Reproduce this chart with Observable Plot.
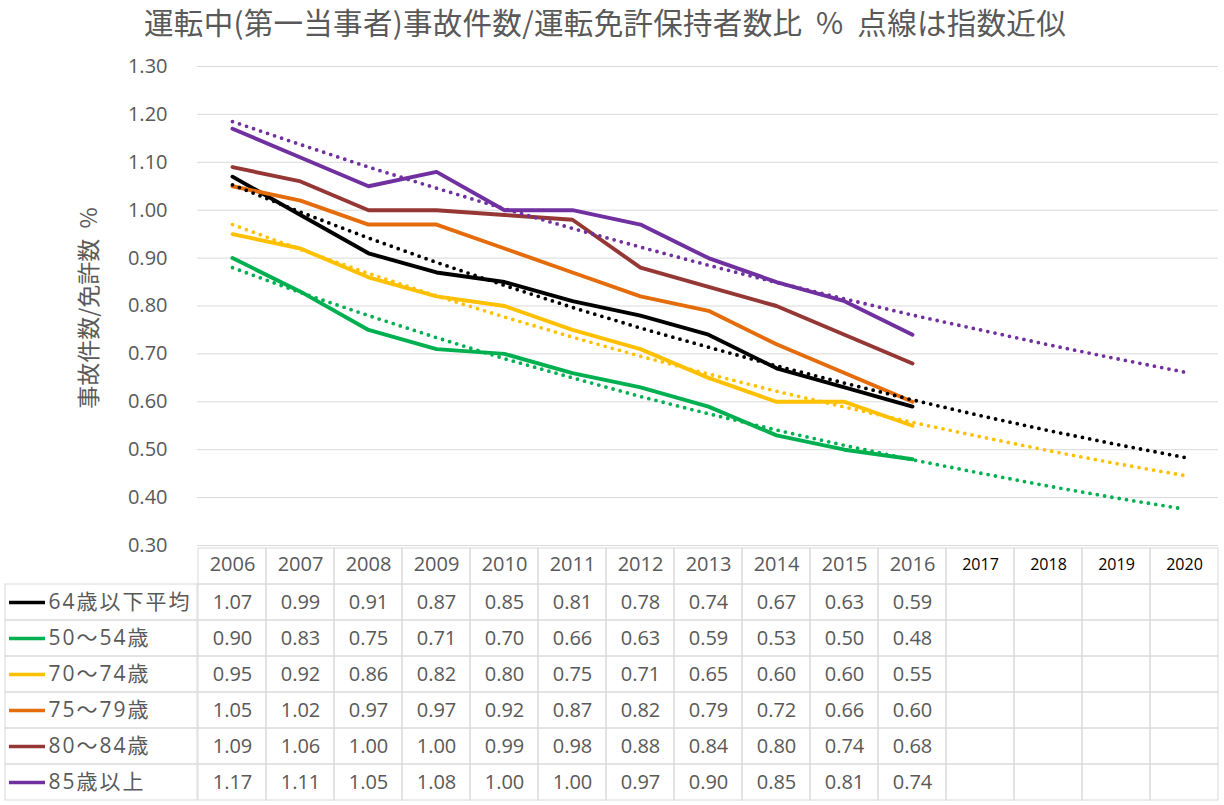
<!DOCTYPE html>
<html><head><meta charset="utf-8">
<script src="https://cdn.jsdelivr.net/npm/d3@7"></script>
<script src="https://cdn.jsdelivr.net/npm/@observablehq/plot@0.6"></script>
<style>
body{margin:0;background:#fff;}
#wrap{position:relative;width:1224px;height:805px;overflow:hidden;background:#fff;}
#title{position:absolute;left:0;top:-1px;width:1210px;height:44px;text-align:center;font-family:'Noto Sans CJK JP',sans-serif;font-size:29.5px;color:#595959;line-height:44px;white-space:pre;letter-spacing:0.3px;}
#chart{position:absolute;left:0;top:50px;}
#table{position:absolute;left:0;top:545px;}
</style></head>
<body><div id="wrap"><div id="title">運転中(第一当事者)事故件数/運転免許保持者数比  %  点線は指数近似</div><div id="chart"></div><div id="table"></div></div>
<script>
const years = ["2006","2007","2008","2009","2010","2011","2012","2013","2014","2015","2016","2017","2018","2019","2020"];
const dataYears = ["2006","2007","2008","2009","2010","2011","2012","2013","2014","2015","2016"];
const seriesNames = ["64歳以下平均","50～54歳","70～74歳","75～79歳","80～84歳","85歳以上"];
const seriesColors = ["#000000","#00B050","#FFC000","#E46C0A","#953735","#7030A0"];
const v64 = [1.07,0.99,0.91,0.87,0.85,0.81,0.78,0.74,0.67,0.63,0.59];
const v50 = [0.90,0.83,0.75,0.71,0.70,0.66,0.63,0.59,0.53,0.50,0.48];
const v70 = [0.95,0.92,0.86,0.82,0.80,0.75,0.71,0.65,0.60,0.60,0.55];
const v75 = [1.05,1.02,0.97,0.97,0.92,0.87,0.82,0.79,0.72,0.66,0.60];
const v80 = [1.09,1.06,1.00,1.00,0.99,0.98,0.88,0.84,0.80,0.74,0.68];
const v85 = [1.17,1.11,1.05,1.08,1.00,1.00,0.97,0.90,0.85,0.81,0.74];
// dotted exponential trend lines (2006-2020)
const trendSeries = ["64歳以下平均","50～54歳","70～74歳","85歳以上"];
const t64 = [1.053,0.996,0.942,0.891,0.843,0.797,0.754,0.714,0.675,0.639,0.604,0.571,0.540,0.511,0.484];
const t50 = [0.880,0.828,0.780,0.734,0.690,0.650,0.611,0.575,0.541,0.509,0.479,0.451,0.424,0.399,0.376];
const t70 = [0.970,0.918,0.868,0.821,0.777,0.735,0.695,0.658,0.622,0.589,0.557,0.527,0.498,0.471,0.446];
const t85 = [1.185,1.137,1.090,1.046,1.003,0.962,0.923,0.885,0.849,0.815,0.781,0.750,0.719,0.690,0.662];
const yTicks = [0.3,0.4,0.5,0.6,0.7,0.8,0.9,1.0,1.1,1.2,1.3];
const yTitle = "事故件数/免許数  %";

const values = [v64,v50,v70,v75,v80,v85];
const trends = [t64,t50,t70,t85];
const lineData = seriesNames.flatMap((s,i)=>dataYears.map((y,j)=>({series:s, year:y, value:values[i][j]})));
const trendData = trendSeries.flatMap((s,i)=>years.map((y,j)=>({series:s, year:y, value:trends[i][j]})));
const colorScale = {domain: seriesNames, range: seriesColors};
const numFont = "'Open Sans','Noto Sans CJK JP',sans-serif";

const chart = Plot.plot({
  width: 1224, height: 507,
  marginLeft: 197, marginRight: 6, marginTop: 16, marginBottom: 12,
  style: {background: "transparent", color: "#595959", fontFamily: numFont},
  x: {type: "band", domain: years, padding: 0, axis: null},
  y: {domain: [0.3, 1.3], axis: null},
  color: colorScale,
  marks: [
    Plot.ruleY(yTicks, {stroke: "#D9D9D9", strokeWidth: 1}),
    Plot.axisY({ticks: yTicks, tickFormat: d3.format(".2f"), tickSize: 0, tickPadding: 30, fontSize: 20, label: null, fill: "#595959"}),
    Plot.line(lineData, {x: "year", y: "value", z: "series", stroke: "series", strokeWidth: 3.9, strokeLinejoin: "round", strokeLinecap: "round"}),
    Plot.line(trendData, {x: "year", y: "value", z: "series", stroke: "series", strokeWidth: 3.8, strokeDasharray: "0 7.4", strokeLinecap: "round"}),
    Plot.text([yTitle], {frameAnchor: "left", textAnchor: "middle", dx: -108, dy: 2, rotate: -90, text: d=>d, fontSize: 23, fill: "#595959", fontFamily: "'Noto Sans CJK JP',sans-serif"})
  ]
});
document.getElementById("chart").appendChild(chart);

const rows = ["header", ...seriesNames];
const gridCells = rows.flatMap(r=>years.map(y=>({row:r, year:y})));
const valueCells = seriesNames.flatMap((s,i)=>dataYears.map((y,j)=>({series:s, year:y, value:values[i][j]})));
const futureYears = years.filter(y=>!dataYears.includes(y));

const table = Plot.plot({
  width: 1224, height: 260,
  marginLeft: 197, marginRight: 6, marginTop: 0, marginBottom: 2,
  style: {background: "transparent", color: "#595959", fontFamily: numFont},
  x: {type: "band", domain: years, padding: 0, axis: null},
  y: {type: "band", domain: rows, padding: 0, axis: null},
  color: colorScale,
  marks: [
    Plot.cell(gridCells, {x: "year", y: "row", fill: "none", stroke: "#D9D9D9", inset: 0}),
    Plot.cell(seriesNames, {y: d=>d, fill: "none", stroke: "#D9D9D9", insetLeft: -192, insetRight: 1021, insetTop: 0, insetBottom: 0}),
    Plot.text(dataYears, {x: d=>d, y: ()=>"header", text: d=>d, dy: -2, fontSize: 20, fill: "#595959"}),
    Plot.text(futureYears, {x: d=>d, y: ()=>"header", text: d=>d, dy: -2, fontSize: 16, fill: "#000000"}),
    Plot.text(valueCells, {x: "year", y: "series", text: d=>d.value.toFixed(2), fontSize: 20, fill: "#595959"}),
    Plot.ruleY(seriesNames, {y: d=>d, stroke: d=>d, strokeWidth: 3.5, insetLeft: -188, insetRight: 1173}),
    Plot.text(seriesNames, {y: d=>d, text: d=>d, frameAnchor: "left", textAnchor: "start", dx: -149, fontSize: 21, fill: "#595959"})
  ]
});
d3.select(table).selectAll("text").filter(function(){return seriesNames.includes(this.textContent);}).style("letter-spacing","2px");
document.getElementById("table").appendChild(table);
</script>
</body></html>
